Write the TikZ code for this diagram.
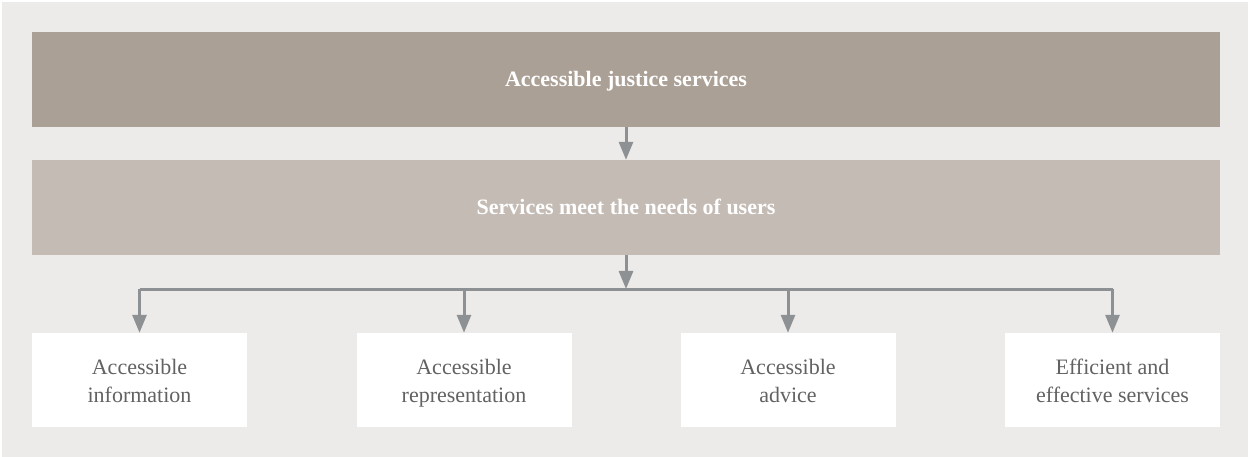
\documentclass[tikz,border=0pt]{standalone}
\usepackage{fontspec}
\setmainfont{Liberation Serif}
\usetikzlibrary{arrows.meta}
\definecolor{panelgray}{HTML}{EDEBE9}
\definecolor{darktaupe}{HTML}{ABA095}
\definecolor{lighttaupe}{HTML}{C4BBB5}
\definecolor{linkgray}{HTML}{8E9194}
\definecolor{textgray}{HTML}{626262}
\begin{document}
\begin{tikzpicture}[x=1pt,y=-1pt,
  band/.style={minimum width=1188pt,minimum height=95pt,inner sep=0pt,
    text height=19pt,text depth=4pt,
    text=white,font=\fontsize{22}{26}\selectfont\bfseries},
  leaf/.style={fill=white,minimum width=215pt,minimum height=94pt,inner sep=0pt,
    text=textgray,align=center,font=\fontsize{22}{28.3}\selectfont,
    text height=50pt,text depth=5.4pt},
  link/.style={draw=linkgray,line width=3pt,
    -{Triangle[width=14pt,length=18pt]}},
  rail/.style={draw=linkgray,line width=3pt}]
  % canvas
  \useasboundingbox (0,0) rectangle (1248,457);
  \fill[panelgray] (2,2) rectangle (1248,457);
  % header bands
  \node[band,fill=darktaupe] (goal) at (626,79.5) {Accessible justice services};
  \node[band,fill=lighttaupe] (need) at (626,207.5) {Services meet the needs of users};
  % outcome boxes
  \node[leaf] (info) at (139.5,380) {Accessible\\information};
  \node[leaf] (repr) at (464,380) {Accessible\\representation};
  \node[leaf] (advi) at (788,380) {Accessible\\advice};
  \node[leaf] (effi) at (1112.5,380) {Efficient and\\effective services};
  % connectors
  \coordinate (split) at (626,289);
  \draw[link] (goal.south) -- (need.north);
  \draw[rail] (split -| info.north) -- (split -| effi.north);
  \draw[link] (need.south) -- (split);
  \foreach \b in {info,repr,advi,effi}
    \draw[link] (split -| \b.north) -- (\b.north);
\end{tikzpicture}
\end{document}
